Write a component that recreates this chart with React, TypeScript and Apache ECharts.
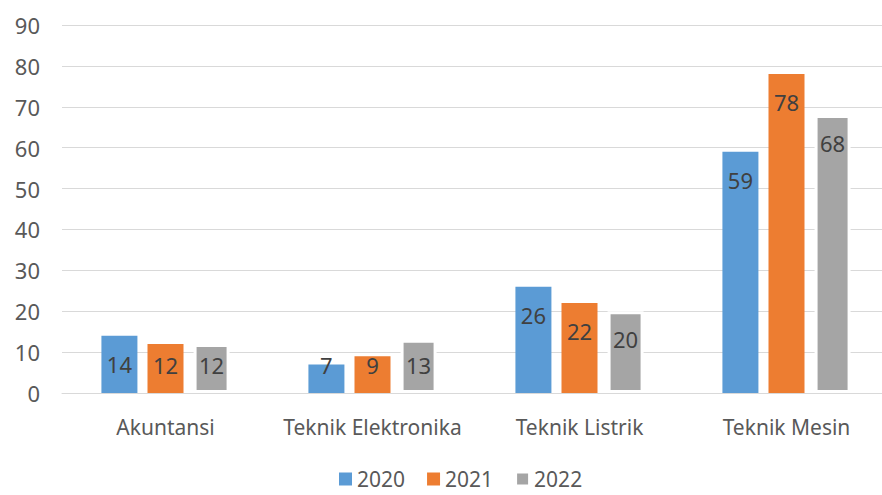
import React, { useEffect, useRef } from "react";
import * as echarts from "echarts";

const categories = ["Akuntansi", "Teknik Elektronika", "Teknik Listrik", "Teknik Mesin"];
const years = ["2020", "2021", "2022"];
const values2020 = [14, 7, 26, 59];
const values2021 = [12, 9, 22, 78];
const values2022 = [12, 13, 20, 68];
const yTicks = { min: 0, max: 90, interval: 10 };
const colors = ["#5B9BD5", "#ED7D31", "#A5A5A5"];

const GRID_TOP = 25;
const GRID_HEIGHT = 368;

function buildSeries(name: string, vals: number[], color: string, narrow: boolean) {
  const pxPerUnit = GRID_HEIGHT / (yTicks.max - yTicks.min);
  return {
    name,
    type: "bar",
    barWidth: 36,
    barGap: "28%",
    itemStyle: narrow
      ? { color, borderColor: "#ffffff", borderWidth: 3 }
      : { color },
    data: vals.map((v) => {
      const barPx = v * pxPerUnit;
      const centerOffset = Math.min(28, barPx - 28);
      return {
        value: v,
        label: { distance: centerOffset - 11 },
      };
    }),
    label: {
      show: true,
      position: "insideTop",
      color: "#404040",
      fontSize: 22,
      fontFamily: "Noto Sans",
    },
  };
}

export default function App() {
  const ref = useRef<HTMLDivElement>(null);
  useEffect(() => {
    if (!ref.current) return;
    const chart = echarts.init(ref.current, undefined, { renderer: "svg" });
    chart.setOption({
      animation: false,
      color: colors,
      textStyle: { fontFamily: "Noto Sans" },
      grid: { left: 62, top: GRID_TOP, right: 0, height: GRID_HEIGHT },
      legend: {
        top: 468,
        left: 339,
        padding: 0,
        itemWidth: 13,
        itemHeight: 13,
        itemGap: 22,
        icon: "rect",
        textStyle: { fontSize: 21, lineHeight: 22, color: "#595959", fontFamily: "Noto Sans" },
        data: years,
      },
      xAxis: {
        type: "category",
        data: categories,
        axisLine: { lineStyle: { color: "#D9D9D9" } },
        axisTick: { show: false },
        axisLabel: { color: "#595959", fontSize: 21, margin: 23, interval: 0, fontFamily: "Noto Sans" },
      },
      yAxis: {
        type: "value",
        min: yTicks.min,
        max: yTicks.max,
        interval: yTicks.interval,
        axisLine: { show: false },
        axisTick: { show: false },
        splitLine: { lineStyle: { color: "#D9D9D9" } },
        axisLabel: { color: "#595959", fontSize: 22, margin: 22, fontFamily: "Noto Sans" },
      },
      series: [
        buildSeries(years[0], values2020, colors[0], false),
        buildSeries(years[1], values2021, colors[1], false),
        buildSeries(years[2], values2022, colors[2], true),
      ],
    });
    return () => chart.dispose();
  }, []);
  return (
    <div style={{ position: "fixed", left: 0, top: 0, width: 882, height: 495, overflow: "hidden", background: "#fff" }}>
      <div ref={ref} style={{ width: 890, height: 495 }} />
    </div>
  );
}
